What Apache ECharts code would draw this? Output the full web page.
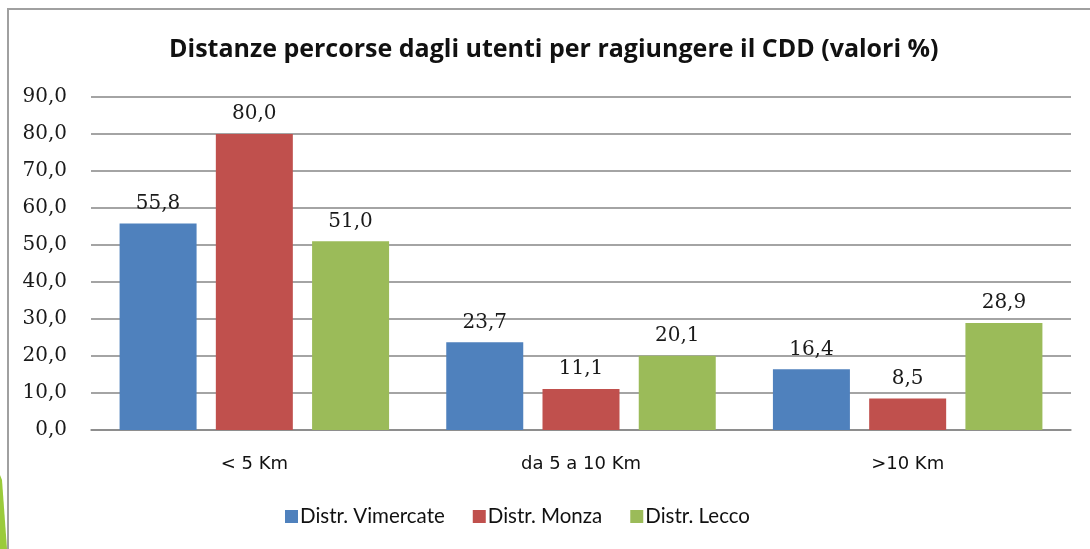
<!DOCTYPE html>
<html>
<head>
<meta charset="utf-8">
<script src="https://cdn.jsdelivr.net/npm/echarts@6/dist/echarts.min.js"></script>
<style>
  html, body { margin: 0; padding: 0; background: #fff; }
  #main { width: 1090px; height: 549px; }
</style>
</head>
<body>
<div id="main"></div>
<script>
// dati
var categories = ['< 5 Km', 'da 5 a 10 Km', '>10 Km'];
var vimercate = [55.8, 23.7, 16.4];
var monza = [80.0, 11.1, 8.5];
var lecco = [51.0, 20.1, 28.9];
var seriesNames = ['Distr. Vimercate', 'Distr. Monza', 'Distr. Lecco'];
var colors = ['#4F81BD', '#C0504D', '#9BBB59'];

function fmt(v) {
  return Number(v).toFixed(1).replace('.', ',');
}

var chart = echarts.init(document.getElementById('main'));

var labelStyle = {
  show: true,
  position: 'top',
  distance: 10,
  fontFamily: 'DejaVu Serif',
  fontSize: 20,
  color: '#1a1a1a',
  formatter: function (p) { return fmt(p.value); }
};

function makeSeries(name, data, color) {
  return {
    name: name,
    type: 'bar',
    data: data,
    barWidth: 77,
    barGap: '25%',
    itemStyle: { color: color },
    label: labelStyle
  };
}

var option = {
  animation: false,
  backgroundColor: '#ffffff',
  title: {
    text: 'Distanze percorse dagli utenti per ragiungere il CDD (valori %)',
    left: 164,
    top: 32,
    textStyle: {
      fontFamily: 'Open Sans',
      fontWeight: 'bold',
      fontSize: 25,
      color: '#111'
    }
  },
  legend: {
    data: seriesNames,
    bottom: 17,
    left: 280,
    itemWidth: 13,
    itemHeight: 13,
    itemGap: 28,
    icon: 'rect',
    textStyle: {
      fontFamily: 'Lato',
      fontSize: 20.5,
      color: '#111',
      padding: [0, 0, 0, -3]
    }
  },
  grid: {
    left: 91,
    right: 19,
    top: 97,
    bottom: 119
  },
  xAxis: {
    type: 'category',
    data: categories,
    axisTick: { show: false },
    axisLine: { lineStyle: { color: '#868686', width: 1.5 } },
    axisLabel: {
      margin: 25,
      fontFamily: 'DejaVu Sans',
      fontSize: 18,
      color: '#111'
    }
  },
  yAxis: {
    type: 'value',
    min: 0,
    max: 90,
    interval: 10,
    axisLine: { show: false },
    axisTick: { show: false },
    splitLine: { lineStyle: { color: '#868686', width: 1.5 } },
    axisLabel: {
      margin: 24,
      fontFamily: 'DejaVu Serif',
      fontSize: 20,
      color: '#1a1a1a',
      formatter: fmt
    }
  },
  graphic: [
    {
      type: 'polyline',
      shape: { points: [[8, 549], [8, 9], [1090, 9]] },
      style: { stroke: '#a0a0a0', lineWidth: 2, fill: null },
      silent: true
    },
    {
      type: 'polygon',
      shape: { points: [[0, 475], [2, 480], [7, 549], [0, 549]] },
      style: { fill: '#9BCB3B' },
      silent: true
    }
  ],
  series: [
    makeSeries(seriesNames[0], vimercate, colors[0]),
    makeSeries(seriesNames[1], monza, colors[1]),
    makeSeries(seriesNames[2], lecco, colors[2])
  ]
};

chart.setOption(option);
</script>
</body>
</html>
